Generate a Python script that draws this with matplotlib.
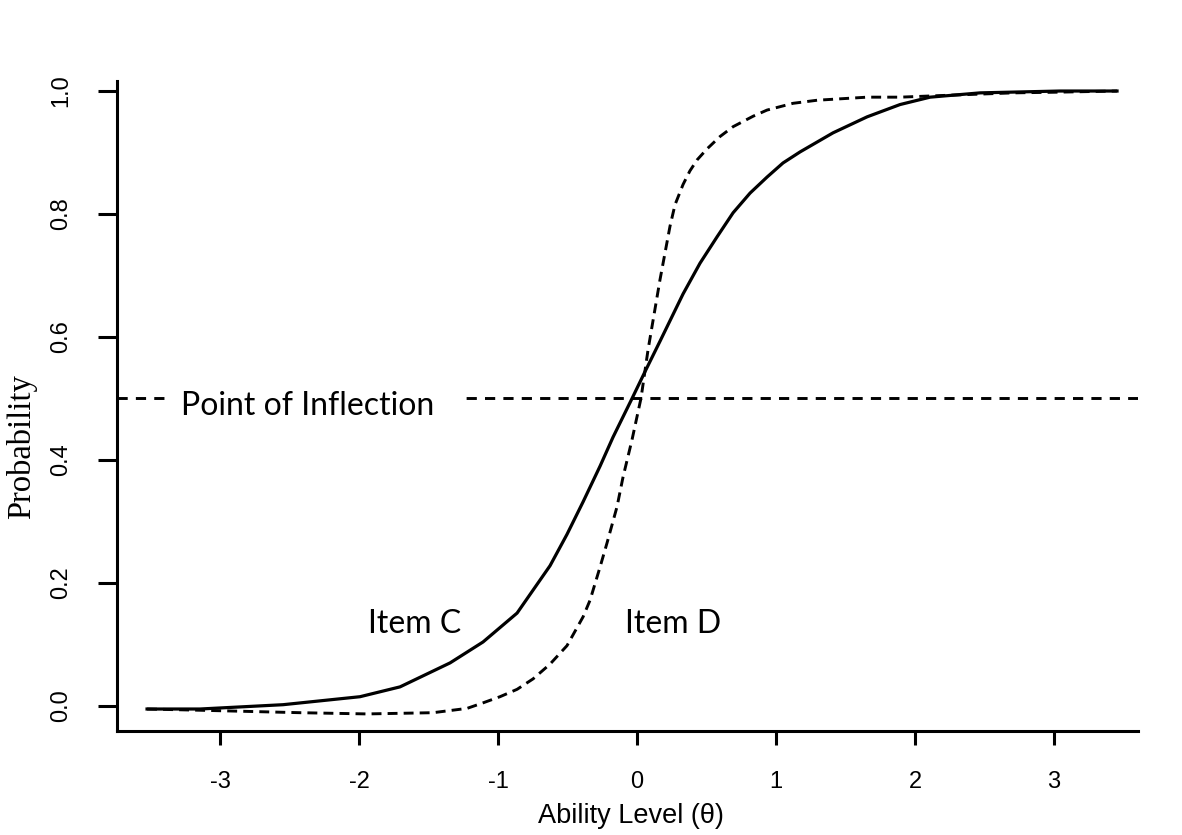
#!/usr/bin/env python3
"""Item characteristic curves for two items (C and D) with the 0.5 inflection line."""

import matplotlib
matplotlib.use("Agg")
import matplotlib.pyplot as plt
from matplotlib.patches import Rectangle
from matplotlib.transforms import ScaledTranslation

# values
item_c_theta = [-3.525, -3.144, -2.547, -1.993, -1.705, -1.345, -1.108, -0.863,
                -0.626, -0.504, -0.388, -0.266, -0.173, -0.036, 0.058, 0.165,
                0.331, 0.453, 0.576, 0.691, 0.813, 0.935, 1.050, 1.173, 1.410,
                1.655, 1.892, 2.108, 2.468, 3.043, 3.453]
item_c_prob = [-0.005, -0.005, 0.002, 0.015, 0.031, 0.070, 0.104, 0.151,
               0.228, 0.279, 0.332, 0.390, 0.437, 0.500, 0.544, 0.593,
               0.670, 0.720, 0.763, 0.802, 0.834, 0.860, 0.883, 0.901, 0.932,
               0.958, 0.978, 0.990, 0.997, 1.000, 1.000]

item_d_theta = [-3.525, -3.144, -2.424, -1.942, -1.468, -1.223, -1.108, -0.986,
                -0.863, -0.748, -0.626, -0.504, -0.388, -0.338, -0.266, -0.216,
                -0.144, -0.101, -0.036, 0.029, 0.079, 0.165, 0.237, 0.273,
                0.331, 0.380, 0.432, 0.504, 0.597, 0.691, 0.835, 0.935, 1.122,
                1.295, 1.655, 1.892, 2.230, 2.705, 2.993, 3.453]
item_d_prob = [-0.005, -0.007, -0.011, -0.013, -0.011, -0.004, 0.005, 0.015,
               0.027, 0.044, 0.068, 0.098, 0.145, 0.172, 0.226, 0.265,
               0.324, 0.372, 0.433, 0.501, 0.579, 0.693, 0.780, 0.815,
               0.848, 0.870, 0.888, 0.906, 0.926, 0.942, 0.959, 0.969, 0.980,
               0.985, 0.990, 0.990, 0.993, 0.997, 0.998, 1.000]

inflection = 0.5
x_ticks = [-3, -2, -1, 0, 1, 2, 3]
y_ticks = [0.0, 0.2, 0.4, 0.6, 0.8, 1.0]

LABEL_FONT = ["Lato", "DejaVu Sans"]

fig = plt.figure(figsize=(11.82, 8.35), dpi=100)
ax = fig.add_axes([0.099, 0.1246, 0.8638, 0.7784])

ax.plot(item_c_theta, item_c_prob, color="black", lw=2.3)
ax.plot(item_d_theta, item_d_prob, color="black", lw=2.1, linestyle=(0, (3.4, 2.1)))
ax.axhline(inflection, color="black", lw=2.1, linestyle=(0, (3.5, 2.8)))

# white box that breaks the inflection line behind its label
ax.add_patch(Rectangle((-3.39, 0.455), 2.16, 0.09, facecolor="white",
                       edgecolor="none", zorder=3))
ax.text(-2.37, 0.473, "Point of Inflection", family=LABEL_FONT, fontsize=23,
        ha="center", va="baseline", zorder=4)
ax.text(-1.597, 0.119, "Item C", family=LABEL_FONT, fontsize=23,
        ha="center", va="baseline")
ax.text(0.259, 0.119, "Item D", family=LABEL_FONT, fontsize=23,
        ha="center", va="baseline")

ax.set_xlim(-3.741, 3.604)
ax.set_ylim(-0.0407, 1.0163)
ax.set_xticks(x_ticks)
ax.set_xticklabels([str(t) for t in x_ticks], family="Liberation Sans", fontsize=17)
ax.set_yticks(y_ticks)
ax.set_yticklabels([f"{t:.1f}" for t in y_ticks], family="Liberation Sans",
                   fontsize=17, rotation=90, va="center")

# the y tick labels sit a little below their ticks in the original
shift = ScaledTranslation(0, -12 / 100, fig.dpi_scale_trans)
for lab in ax.get_yticklabels():
    lab.set_transform(lab.get_transform() + shift)

for side in ("top", "right"):
    ax.spines[side].set_visible(False)
for side in ("left", "bottom"):
    ax.spines[side].set_linewidth(2.2)

ax.tick_params(axis="x", length=10, width=2.2, pad=19)
ax.tick_params(axis="y", length=14, width=2.2, pad=18)

ax.set_xlabel("Ability Level (\u03b8)", family="Liberation Sans", fontsize=19.5)
ax.xaxis.set_label_coords(0.503, -0.1115)
ax.set_ylabel("Probability", family="Liberation Serif", fontsize=23.5)
ax.yaxis.set_label_coords(-0.078, 0.437)

fig.savefig("out.png", dpi=100)
